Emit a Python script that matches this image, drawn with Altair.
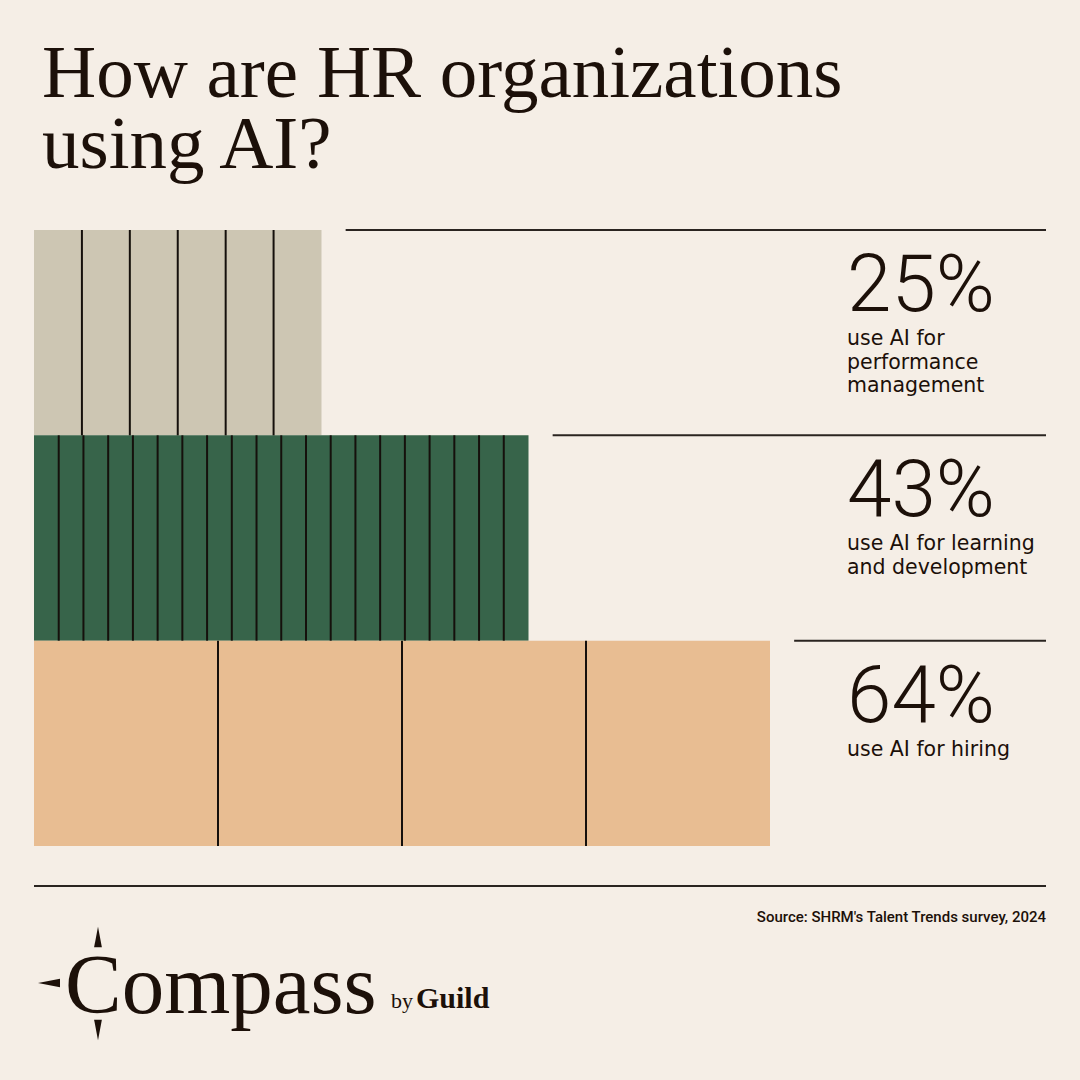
import altair as alt
import pandas as pd

# ---------------- data ----------------
categories = ["performance management", "learning and development", "hiring"]
values = [25, 43, 64]
segments = [6, 20, 4]
bar_colors = ["#CDC6B3", "#37644A", "#E8BD92"]
sub_labels = [
    "use AI for\nperformance\nmanagement",
    "use AI for learning\nand development",
    "use AI for hiring",
]
title_text = "How are HR organizations\nusing AI?"
source_text = "Source: SHRM's Talent Trends survey, 2024"
brand_name = "Compass"
brand_by = "by"
brand_org = "Guild"

# ---------------- styling ----------------
BG = "#F5EEE6"
INK = "#1C1009"
X_MAX = 88
W, H = 1012, 616

rows = pd.DataFrame({
    "cat": categories,
    "value": values,
    "row": list(range(len(categories))),
    "label": [f"{v}%" for v in values],
    "sub": sub_labels,
})
rows["row_end"] = rows["row"] + 1
rows["zero"] = 0

div_records = []
for r, (v, n) in enumerate(zip(values, segments)):
    for k in range(1, n):
        div_records.append({"row": r, "row_end": r + 1, "pos": v * k / n})
dividers = pd.DataFrame(div_records)

x_scale = alt.Scale(domain=[0, X_MAX], nice=False, zero=True)
y_scale = alt.Scale(domain=[0, 3], reverse=True, nice=False, zero=False)

base = alt.Chart(rows)

bars = base.mark_rect().encode(
    x=alt.X("zero:Q", scale=x_scale, axis=None),
    x2="value:Q",
    y=alt.Y("row:Q", scale=y_scale, axis=None),
    y2="row_end:Q",
    color=alt.Color("cat:N", scale=alt.Scale(domain=categories, range=bar_colors), legend=None),
)

div_rules = alt.Chart(dividers).mark_rule(strokeWidth=2, color="#15100C").encode(
    x=alt.X("pos:Q", scale=x_scale, axis=None),
    y=alt.Y("row:Q", scale=y_scale, axis=None),
    y2="row_end:Q",
)

h_rules = base.transform_calculate(
    start="datum.value + 2.1", end=str(X_MAX)
).mark_rule(strokeWidth=2, color="#2A2420").encode(
    x=alt.X("start:Q", scale=x_scale, axis=None),
    x2="end:Q",
    y=alt.Y("row:Q", scale=y_scale, axis=None),
)

big_nums = base.mark_text(
    align="left", baseline="alphabetic", dy=81,
    font="Roboto", fontWeight=300, fontSize=80, color=INK,
).encode(
    x=alt.value(813),
    y=alt.Y("row:Q", scale=y_scale, axis=None),
    text="label:N",
)

subs = base.mark_text(
    align="left", baseline="alphabetic", dy=115, lineBreak="\n", lineHeight=23.5,
    font="DejaVu Sans", fontSize=20.5, color=INK,
).encode(
    x=alt.value(813),
    y=alt.Y("row:Q", scale=y_scale, axis=None),
    text="sub:N",
)

one = alt.Chart(pd.DataFrame({"k": [0]}))

title = one.mark_text(
    align="left", baseline="alphabetic", lineBreak="\n", lineHeight=71,
    font="Liberation Serif", fontSize=75, color=INK, text=title_text,
).encode(x=alt.value(8), y=alt.value(-133))

bottom_rule = one.mark_rule(strokeWidth=2, color="#2A2420").encode(
    x=alt.value(0), x2=alt.value(W), y=alt.value(656)
)

source = one.mark_text(
    align="right", baseline="alphabetic",
    font="Roboto", fontWeight=500, fontSize=15, color=INK, text=source_text,
).encode(x=alt.value(W), y=alt.value(692))

logo_main = one.mark_text(
    align="left", baseline="alphabetic",
    font="Liberation Serif", fontSize=85, color=INK, text=brand_name,
).encode(x=alt.value(31), y=alt.value(783))

logo_by = one.mark_text(
    align="left", baseline="alphabetic",
    font="Liberation Serif", fontSize=22, color=INK, text=brand_by,
).encode(x=alt.value(357), y=alt.value(778))

logo_org = one.mark_text(
    align="left", baseline="alphabetic",
    font="Liberation Serif", fontWeight="bold", fontSize=30, color=INK, text=brand_org,
).encode(x=alt.value(382), y=alt.value(778))

tri_up = one.mark_point(
    shape="M0,-1L0.38,1L-0.38,1Z", filled=True, size=420, color=INK, opacity=1
).encode(x=alt.value(64), y=alt.value(707))
tri_down = one.mark_point(
    shape="M0,1L0.38,-1L-0.38,-1Z", filled=True, size=420, color=INK, opacity=1
).encode(x=alt.value(64), y=alt.value(800))
tri_left = one.mark_point(
    shape="M-1,0L1,-0.38L1,0.38Z", filled=True, size=484, color=INK, opacity=1
).encode(x=alt.value(15), y=alt.value(753))

chart = alt.layer(
    bars, div_rules, h_rules, big_nums, subs,
    title, bottom_rule, source, logo_main, logo_by, logo_org,
    tri_up, tri_down, tri_left,
).properties(
    width=W, height=H,
    autosize=alt.AutoSizeParams(type="none"),
    padding={"left": 34, "top": 230, "right": 34, "bottom": 234},
    background=BG,
).configure_view(strokeWidth=0)

chart.save("out.html", embed_options={"renderer": "svg", "actions": False})
